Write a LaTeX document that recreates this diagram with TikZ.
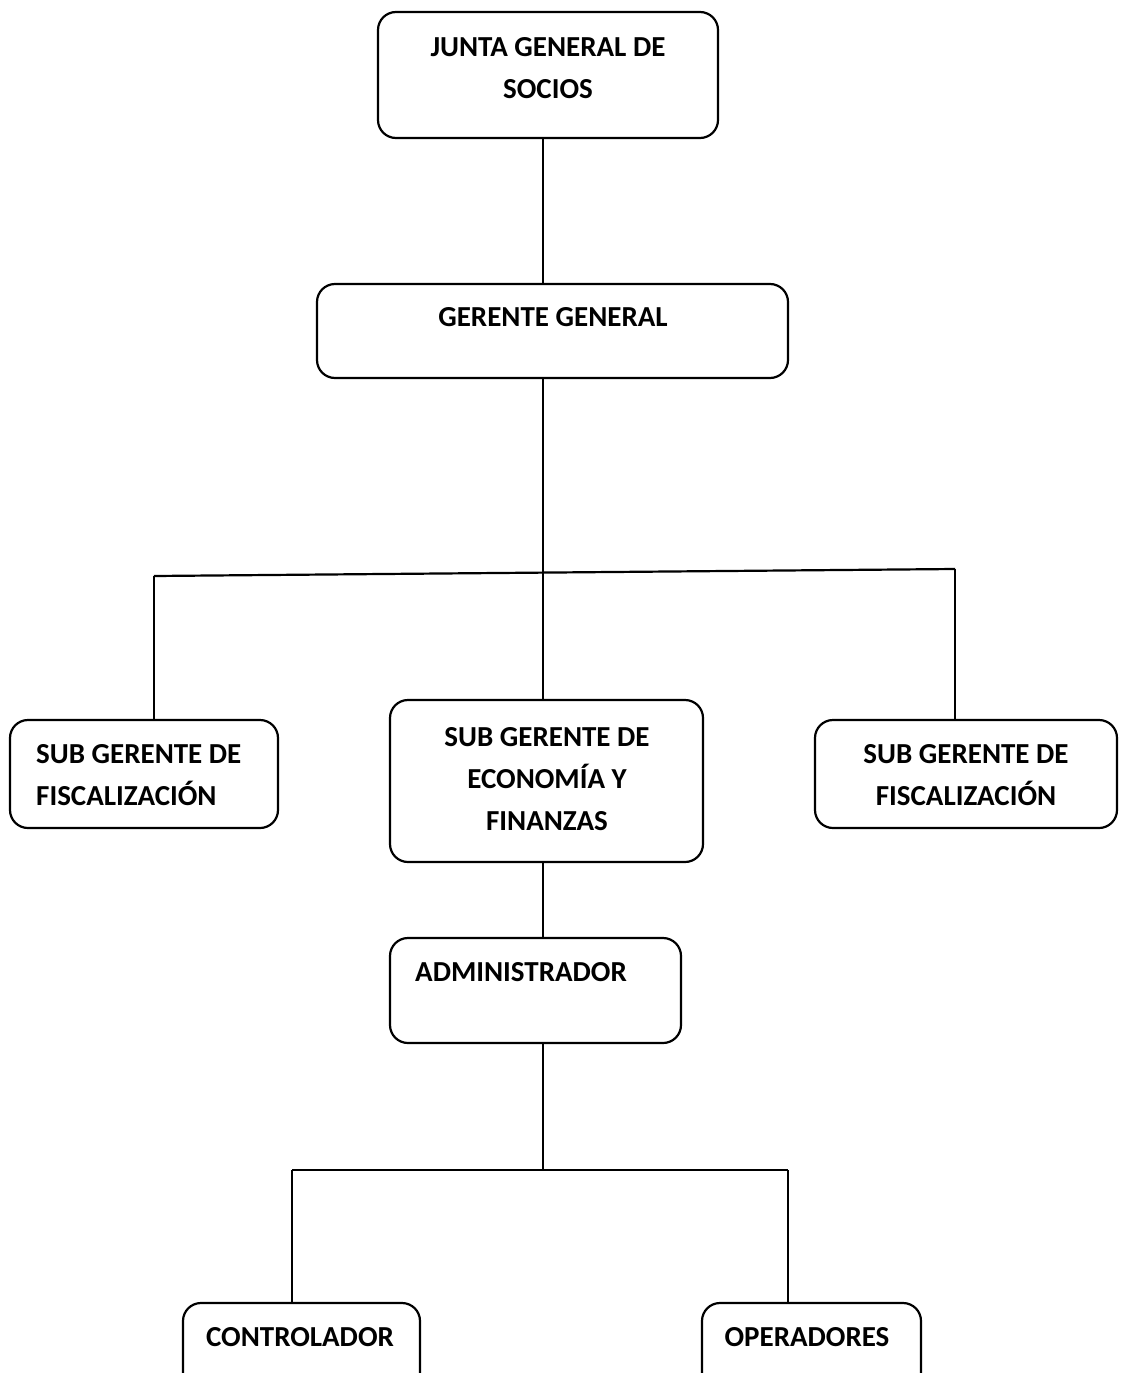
\documentclass[tikz,border=0pt]{standalone}
\usepackage{fontspec}
\setmainfont{Carlito}
\begin{document}
\begin{tikzpicture}[x=1pt,y=-1pt,
  box/.style={draw, line width=2.2pt, rounded corners=18pt, inner sep=0pt},
  label/.style={inner sep=0pt, font=\fontsize{29}{42}\selectfont\bfseries},
  link/.style={line width=2.2pt}]
\path[use as bounding box, clip] (0,0) rectangle (1125,1373);

% boxes
\node[box, minimum width=340pt, minimum height=126pt] (junta)    at (548,75)    {};
\node[box, minimum width=471pt, minimum height=94pt]  (gerente)  at (552.5,331) {};
\node[box, minimum width=268pt, minimum height=108pt] (sgL)      at (144,774)   {};
\node[box, minimum width=313pt, minimum height=162pt] (sgC)      at (546.5,781) {};
\node[box, minimum width=302pt, minimum height=108pt] (sgR)      at (966,774)   {};
\node[box, minimum width=291pt, minimum height=105pt] (admin)    at (535.5,990.5) {};
\node[box, minimum width=237pt, minimum height=110pt] (ctrl)     at (301.5,1358) {};
\node[box, minimum width=219pt, minimum height=110pt] (oper)     at (811.5,1358) {};

% texts
\node[label, align=center] (tjunta) at (548,68) {JUNTA GENERAL DE\\SOCIOS};
\node[label] (tgerente) at (553,317) {GERENTE GENERAL};
\node[label, align=left, anchor=west] (tsgL) at (36,775) {SUB GERENTE DE\\FISCALIZACIÓN};
\node[label, align=center] (tsgC) at (547,779) {SUB GERENTE DE\\ECONOMÍA Y\\FINANZAS};
\node[label, align=center] (tsgR) at (966,775) {SUB GERENTE DE\\FISCALIZACIÓN};
\node[label, anchor=west] (tadmin) at (415,972) {ADMINISTRADOR};
\node[label] (tctrl) at (300,1337) {CONTROLADOR};
\node[label] (toper) at (807,1337) {OPERADORES};

% connector geometry
\coordinate (spine) at (543,0);
\coordinate (busL) at (154,576);
\coordinate (busR) at (955,569);
\coordinate (bus2) at (543,1170);
\coordinate (bus2L) at (292,1170);
\coordinate (bus2R) at (788,1170);

% connectors
\draw[link] (spine |- junta.south) -- (spine |- gerente.north);
\draw[link] (spine |- gerente.south) -- (spine |- sgC.north);
\draw[link] (busL) -- (busR);
\draw[link] (busL) -- (busL |- sgL.north);
\draw[link] (busR) -- (busR |- sgR.north);
\draw[link] (spine |- sgC.south) -- (spine |- admin.north);
\draw[link] (spine |- admin.south) -- (bus2);
\draw[link] (bus2L) -- (bus2R);
\draw[link] (bus2L) -- (bus2L |- ctrl.north);
\draw[link] (bus2R) -- (bus2R |- oper.north);
\end{tikzpicture}
\end{document}
